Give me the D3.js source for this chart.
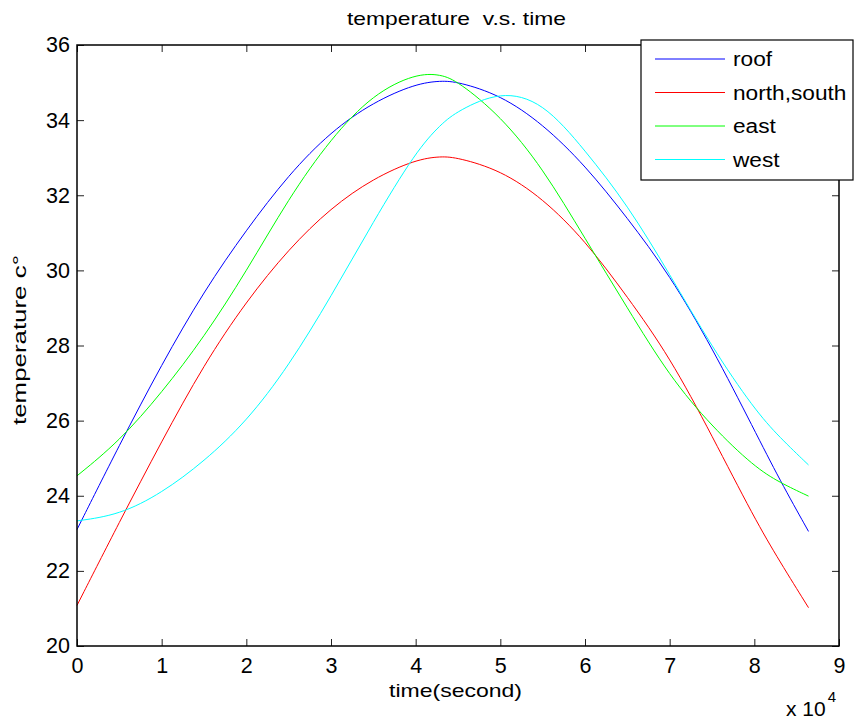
<!DOCTYPE html>
<html>
<head>
<meta charset="utf-8">
<script src="https://cdn.jsdelivr.net/npm/d3@7"></script>
<style>
  body { margin: 0; background: #fff; }
  svg { font-family: "Liberation Sans", Arial, sans-serif; }
</style>
</head>
<body>
<svg id="chart" width="855" height="722"></svg>
<script>
// time in seconds, temperatures
var time = [0, 5000, 10000, 15000, 20000, 25000, 30000, 35000, 40000, 43000, 45000, 50000,
            55000, 60000, 65000, 70000, 75000, 80000, 83000, 86400]

var roof  = [23.1, 25.35, 27.5, 29.45, 31.08, 32.55, 33.7, 34.48, 34.97, 35.05, 35.02, 34.67,
             33.9, 32.8, 31.4, 29.88, 27.95, 25.75, 24.42, 23.05]
var north = [21.08, 23.3, 25.45, 27.5, 29.18, 30.57, 31.67, 32.45, 32.95, 33.04, 33.0, 32.67,
             31.92, 30.8, 29.3, 27.7, 25.6, 23.4, 22.25, 21.02]
var east  = [24.53, 25.45, 26.74, 28.22, 29.97, 31.92, 33.52, 34.7, 35.24, 35.22, 35.03, 34.12,
             32.73, 30.85, 29.0, 27.17, 25.84, 24.77, 24.35, 23.99]
var west  = [23.33, 23.49, 24.07, 24.91, 25.97, 27.45, 29.3, 31.3, 33.16, 33.9, 34.25, 34.78,
             34.5, 33.2, 31.75, 29.9, 27.95, 26.3, 25.55, 24.82]

var seriesNames = ["roof", "north,south", "east", "west"]
var seriesColors = ["#0000ff", "#ff0000", "#00ff00", "#00ffff"]
var seriesValues = [roof, north, east, west]

var xTicks = [0, 10000, 20000, 30000, 40000, 50000, 60000, 70000, 80000, 90000]
var yTicks = [20, 22, 24, 26, 28, 30, 32, 34, 36]

var dimensions = {
    width: 855,
    height: 722,
    margin: { top: 45, bottom: 76, right: 16, left: 77 }
}
var plotW = dimensions.width - dimensions.margin.left - dimensions.margin.right
var plotH = dimensions.height - dimensions.margin.top - dimensions.margin.bottom

var svg = d3.select("#chart")

var xScale = d3.scaleLinear().domain([0, 90000]).range([0, plotW])
var yScale = d3.scaleLinear().domain([20, 36]).range([plotH, 0])

var g = svg.append("g")
    .attr("transform", "translate(" + dimensions.margin.left + "," + dimensions.margin.top + ")")

// lines
var line = d3.line()
    .x((d, i) => xScale(time[i]))
    .y(d => yScale(d))
    .curve(d3.curveBasis)

g.selectAll(".series")
    .data(seriesValues)
    .enter()
    .append("path")
    .attr("class", "series")
    .attr("d", d => line(d))
    .attr("fill", "none")
    .attr("stroke", (d, i) => seriesColors[i])
    .attr("stroke-width", 1)

// axes, ticks pointing inward like matlab
var fmtX = d => d3.format("d")(d / 10000)

g.append("g")
    .attr("transform", "translate(0," + plotH + ")")
    .call(d3.axisBottom(xScale).tickValues(xTicks).tickFormat(fmtX)
        .tickSizeInner(-7).tickSizeOuter(0).tickPadding(12))
g.append("g")
    .call(d3.axisTop(xScale).tickValues(xTicks).tickFormat("")
        .tickSizeInner(-7).tickSizeOuter(0))
g.append("g")
    .call(d3.axisLeft(yScale).tickValues(yTicks)
        .tickSizeInner(-7).tickSizeOuter(0).tickPadding(7))
g.append("g")
    .attr("transform", "translate(" + plotW + ",0)")
    .call(d3.axisRight(yScale).tickValues(yTicks).tickFormat("")
        .tickSizeInner(-7).tickSizeOuter(0))

g.selectAll(".domain").remove()
g.selectAll(".tick line").attr("stroke", "#222").attr("stroke-width", 1)
g.selectAll(".tick text")
    .attr("font-size", "21.5px")
    .attr("font-family", "Liberation Sans, Arial, sans-serif")
    .attr("fill", "#000")

g.append("rect")
    .attr("width", plotW)
    .attr("height", plotH)
    .attr("fill", "none")
    .attr("stroke", "#000")
    .attr("stroke-width", 1.5)

// title and labels (reference text is a bit wider than the font)
svg.append("text")
    .attr("x", 347)
    .attr("y", 25)
    .attr("font-size", "19px")
    .attr("xml:space", "preserve")
    .attr("textLength", 219)
    .attr("lengthAdjust", "spacingAndGlyphs")
    .text("temperature  v.s. time")

svg.append("text")
    .attr("x", 389)
    .attr("y", 697)
    .attr("font-size", "19px")
    .attr("textLength", 133)
    .attr("lengthAdjust", "spacingAndGlyphs")
    .text("time(second)")

svg.append("text")
    .attr("transform", "translate(26,425) rotate(-90)")
    .attr("font-size", "18.5px")
    .attr("textLength", 170)
    .attr("lengthAdjust", "spacingAndGlyphs")
    .text("temperature c°")

var mult = svg.append("text")
    .attr("x", 786)
    .attr("y", 716)
    .attr("font-size", "21px")
mult.append("tspan").text("x 10")
mult.append("tspan").attr("dx", 2).attr("dy", -14).attr("font-size", "15px").text("4")

// legend
var legend = svg.append("g").attr("transform", "translate(641,40)")
legend.append("rect")
    .attr("width", 212)
    .attr("height", 140)
    .attr("fill", "#fff")
    .attr("stroke", "#000")
    .attr("stroke-width", 1.2)

var items = legend.selectAll(".item")
    .data(seriesNames)
    .enter()
    .append("g")
    .attr("transform", (d, i) => "translate(0," + (19 + i * 33.5) + ")")
items.append("line")
    .attr("x1", 14).attr("x2", 84)
    .attr("stroke", (d, i) => seriesColors[i])
    .attr("stroke-width", 1)
items.append("text")
    .attr("x", 92)
    .attr("dy", "0.35em")
    .attr("font-size", "21px")
    .attr("transform", "scale(1.08,1)")
    .attr("transform-origin", "92 0")
    .text(d => d)
</script>
</body>
</html>
